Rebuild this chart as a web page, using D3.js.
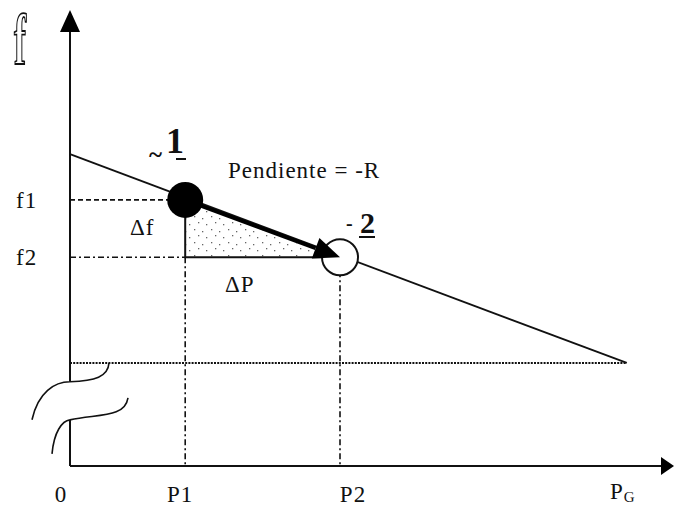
<!DOCTYPE html>
<html lang="es">
<head>
<meta charset="UTF-8">
<title>Pendiente = -R</title>
<script src="https://d3js.org/d3.v7.min.js"></script>
<style>
  body { margin: 0; background: #fff; }
  svg { display: block; }
  text { fill: #111; font-family: "Liberation Serif", "DejaVu Serif", serif; letter-spacing: 1px; }
</style>
</head>
<body>
<div id="chart"></div>
<script>
// values (axis units 0..100)
const tickLabels = ["0", "P1", "P2"];
const tickValues = [0, 19.2, 45];
const levelLabels = ["f1", "f2"];
const levelValues = [59.4, 46.6];
const lineP = [0, 92.8];
const lineF = [69.6, 23];
const floorF = 23;
const breakF = [18.8, 10.3];

const width = 674, height = 508;
const serif = "Liberation Serif, DejaVu Serif, serif";

const x = d3.scaleLinear().domain([0, 100]).range([70, 670]);
const y = d3.scaleLinear().domain([0, 100]).range([466, 18]);

const svg = d3.select("#chart").append("svg")
  .attr("width", width)
  .attr("height", height)
  .attr("font-family", serif);

// stipple for the delta triangle
const defs = svg.append("defs");
const pat = defs.append("pattern")
  .attr("id", "stipple")
  .attr("width", 17).attr("height", 13)
  .attr("patternUnits", "userSpaceOnUse");
[[2, 3], [11, 1], [7, 8], [15, 10]].forEach(d => {
  pat.append("rect").attr("x", d[0]).attr("y", d[1])
    .attr("width", 1.3).attr("height", 1.3).attr("fill", "#666");
});

const x0 = x(0), yAxisBot = y(0);

// y axis with break
svg.append("line")
  .attr("x1", x0).attr("x2", x0)
  .attr("y1", y(breakF[0])).attr("y2", 32)
  .attr("stroke", "#111").attr("stroke-width", 2);
svg.append("line")
  .attr("x1", x0).attr("x2", x0)
  .attr("y1", yAxisBot).attr("y2", y(breakF[1]))
  .attr("stroke", "#111").attr("stroke-width", 2);
svg.append("path")
  .attr("d", `M${x0},10 L${x0 - 10},32 L${x0 + 10},32 Z`)
  .attr("fill", "#000");

// break curves
const yb0 = y(breakF[0]), yb1 = y(breakF[1]);
svg.append("path")
  .attr("d", `M${x0 - 38},${yb0 + 38} C${x0 - 32},${yb0 + 10} ${x0 - 15},${yb0} ${x0},${yb0}
              C${x0 + 25},${yb0 - 1} ${x0 + 38},${yb0 - 5} ${x0 + 39},${y(floorF)}`)
  .attr("fill", "none").attr("stroke", "#111").attr("stroke-width", 1.6);
svg.append("path")
  .attr("d", `M${x0 - 18},${yb1 + 34} C${x0 - 16},${yb1 + 12} ${x0 - 8},${yb1 + 1} ${x0},${yb1}
              C${x0 + 28},${yb1 - 6} ${x0 + 55},${yb1 - 2} ${x0 + 58},${yb1 - 22}`)
  .attr("fill", "none").attr("stroke", "#111").attr("stroke-width", 1.6);

// x axis
svg.append("line")
  .attr("x1", x0).attr("x2", 662)
  .attr("y1", yAxisBot).attr("y2", yAxisBot)
  .attr("stroke", "#111").attr("stroke-width", 2);
svg.append("path")
  .attr("d", `M674,${yAxisBot} L661,${yAxisBot - 9} L661,${yAxisBot + 9} Z`)
  .attr("fill", "#000");

// floor dotted line
svg.append("line")
  .attr("x1", x0).attr("x2", x(lineP[1]))
  .attr("y1", y(floorF)).attr("y2", y(floorF))
  .attr("stroke", "#111").attr("stroke-width", 2)
  .attr("stroke-dasharray", "2,1.2");

const P1 = tickValues[1], P2 = tickValues[2];
const f1 = levelValues[0], f2 = levelValues[1];

// guides
svg.append("line")
  .attr("x1", x0).attr("x2", x(P1))
  .attr("y1", y(f1)).attr("y2", y(f1))
  .attr("stroke", "#111").attr("stroke-width", 1.6).attr("stroke-dasharray", "5,3");
svg.append("line")
  .attr("x1", x0).attr("x2", x(P1))
  .attr("y1", y(f2)).attr("y2", y(f2))
  .attr("stroke", "#111").attr("stroke-width", 1.6).attr("stroke-dasharray", "6,3,2,3");
svg.append("line")
  .attr("x1", x(P1)).attr("x2", x(P1))
  .attr("y1", y(f2)).attr("y2", yAxisBot)
  .attr("stroke", "#111").attr("stroke-width", 1.6).attr("stroke-dasharray", "6,3,2,3");
svg.append("line")
  .attr("x1", x(P2)).attr("x2", x(P2))
  .attr("y1", y(f2)).attr("y2", yAxisBot)
  .attr("stroke", "#111").attr("stroke-width", 1.6).attr("stroke-dasharray", "6,3,2,3");

// main line f = f0 - R P
svg.append("line")
  .attr("x1", x(lineP[0])).attr("y1", y(lineF[0]))
  .attr("x2", x(lineP[1])).attr("y2", y(lineF[1]))
  .attr("stroke", "#111").attr("stroke-width", 1.8);

// delta triangle
const ang = Math.atan2(y(f2) - y(f1), x(P2) - x(P1));
const hitX = x(P1) + (y(f2) - y(f1)) / Math.tan(ang);
svg.append("path")
  .attr("d", `M${x(P1)},${y(f1)} L${x(P1)},${y(f2)} L${hitX},${y(f2)} Z`)
  .attr("fill", "url(#stipple)");
svg.append("path")
  .attr("d", `M${x(P1)},${y(f1)} L${x(P1)},${y(f2)} L${hitX},${y(f2)}`)
  .attr("fill", "none").attr("stroke", "#111").attr("stroke-width", 2);

// points
svg.append("circle")
  .attr("cx", x(P2)).attr("cy", y(f2)).attr("r", 18)
  .attr("fill", "#fff").attr("stroke", "#111").attr("stroke-width", 2);
svg.append("circle")
  .attr("cx", x(P1)).attr("cy", y(f1)).attr("r", 18)
  .attr("fill", "#000");

// arrow 1 -> 2
const tipX = x(P2), tipY = y(f2);
const headLen = 26, headHalf = 11;
const bx = tipX - headLen * Math.cos(ang), by = tipY - headLen * Math.sin(ang);
svg.append("line")
  .attr("x1", x(P1)).attr("y1", y(f1))
  .attr("x2", bx).attr("y2", by)
  .attr("stroke", "#000").attr("stroke-width", 4);
svg.append("path")
  .attr("d", `M${tipX},${tipY}
              L${bx + headHalf * Math.sin(ang)},${by - headHalf * Math.cos(ang)}
              L${bx - headHalf * Math.sin(ang)},${by + headHalf * Math.cos(ang)} Z`)
  .attr("fill", "#000");

// tick labels
const tickDx = [-9, -5, 13];
svg.selectAll(".tick-label")
  .data(tickLabels)
  .enter().append("text")
  .attr("class", "tick-label")
  .attr("x", (d, i) => x(tickValues[i]) + tickDx[i])
  .attr("y", 502)
  .attr("text-anchor", "middle")
  .attr("font-family", serif)
  .attr("font-size", 23)
  .text(d => d);

svg.selectAll(".level-label")
  .data(levelLabels)
  .enter().append("text")
  .attr("class", "level-label")
  .attr("x", 16)
  .attr("y", (d, i) => y(levelValues[i]) + 8)
  .attr("font-family", serif)
  .attr("font-size", 23)
  .text(d => d);

// axis name: hollow outlined f
svg.append("text")
  .attr("transform", "translate(14,64) scale(0.95,1.9)")
  .attr("font-family", serif)
  .attr("font-size", 38)
  .attr("font-weight", "bold")
  .style("fill", "#fff")
  .attr("stroke", "#111").attr("stroke-width", 1)
  .text("f");

const pg = svg.append("text").attr("x", 610).attr("y", 499)
  .attr("font-family", serif).attr("font-size", 23);
pg.append("tspan").text("P");
pg.append("tspan").attr("dy", 3).attr("font-size", 15).text("G");

// annotations
svg.append("text").attr("x", 228).attr("y", 178).attr("font-family", serif)
  .attr("font-size", 23).text("Pendiente = -R");
svg.append("text").attr("x", 130).attr("y", 235).attr("font-family", serif)
  .attr("font-size", 23).text("Δf");
svg.append("text").attr("x", 225).attr("y", 292).attr("font-family", serif)
  .attr("font-size", 23).text("ΔP");

// point labels
svg.append("text").attr("x", 166).attr("y", 153).attr("font-family", serif)
  .attr("font-size", 36).attr("font-weight", "bold").text("1");
svg.append("text").attr("x", 149).attr("y", 163).attr("font-family", serif)
  .attr("font-size", 25).attr("font-weight", "bold")
  .style("letter-spacing", "0px").text("~");
svg.append("line").attr("x1", 176).attr("x2", 186).attr("y1", 159).attr("y2", 159)
  .attr("stroke", "#111").attr("stroke-width", 2);

svg.append("text").attr("x", 346).attr("y", 230).attr("font-family", serif)
  .attr("font-size", 20).attr("font-weight", "bold").text("-");
svg.append("text").attr("x", 360).attr("y", 233).attr("font-family", serif)
  .attr("font-size", 30).attr("font-weight", "bold").text("2");
svg.append("line").attr("x1", 359).attr("x2", 375).attr("y1", 237).attr("y2", 237)
  .attr("stroke", "#111").attr("stroke-width", 2);
</script>
</body>
</html>
